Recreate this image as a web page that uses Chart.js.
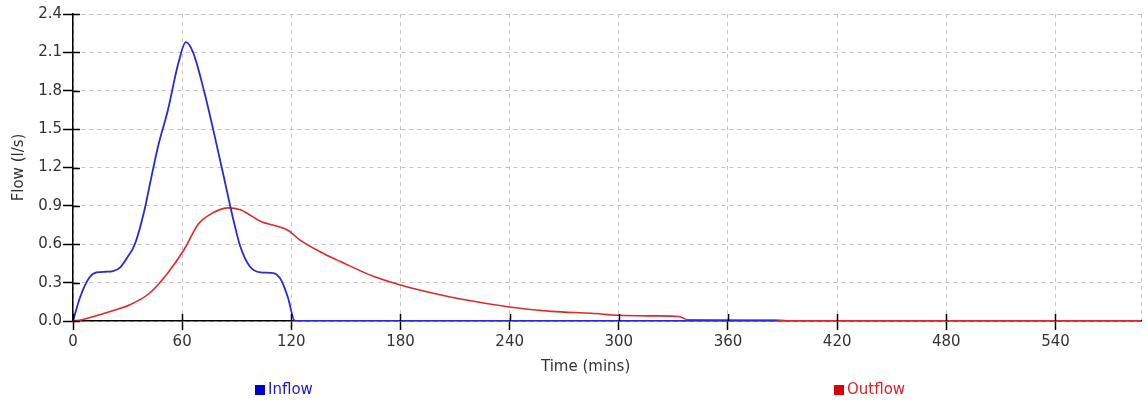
<!DOCTYPE html>
<html>
<head>
<meta charset="utf-8">
<script src="https://cdn.jsdelivr.net/npm/chart.js@4/dist/chart.umd.min.js"></script>
<style>
  body { margin: 0; background: #fff; font-family: "DejaVu Sans", sans-serif; }
  #wrap { position: relative; width: 1148px; height: 404px; }
  #chart { position: absolute; left: 0; top: 0; }
  .lbl { position: absolute; font-size: 15px; white-space: nowrap; }
  .sq { position: absolute; width: 10px; height: 10px; }
</style>
</head>
<body>
<div id="wrap">
  <canvas id="chart" width="1148" height="404"></canvas>
  <div class="lbl" id="xtitle" style="left:541px; top:357px; color:#333;">Time (mins)</div>
  <div class="sq" style="left:255px; top:385px; background:#0000d0;"></div>
  <div class="lbl" style="left:268px; top:380px; color:#1a1ad0;">Inflow</div>
  <div class="sq" style="left:834px; top:385px; background:#e00000;"></div>
  <div class="lbl" style="left:847px; top:380px; color:#e02020;">Outflow</div>
</div>
<script>
// inflow hydrograph (mins, l/s)
const inflowTime = [0, 4, 9, 13, 18, 22, 26, 30, 34, 39, 43, 47, 52, 58, 62, 66, 72, 77, 83, 88, 92, 97, 103, 110, 114, 118, 122, 387];
const inflowFlow = [0, 0.19, 0.34, 0.38, 0.385, 0.39, 0.42, 0.5, 0.6, 0.85, 1.12, 1.38, 1.64, 2.02, 2.18, 2.10, 1.80, 1.50, 1.12, 0.80, 0.58, 0.43, 0.38, 0.375, 0.33, 0.19, 0, 0];

// outflow hydrograph (mins, l/s)
const outflowTime = [0, 5, 11, 20, 31, 42, 52, 61, 69, 75, 85, 92, 103, 118, 125, 136, 147, 165, 180, 198, 213, 240, 263, 285, 300, 320, 333, 338, 386, 392, 587];
const outflowFlow = [0, 0.01, 0.034, 0.073, 0.125, 0.217, 0.374, 0.557, 0.76, 0.83, 0.884, 0.87, 0.78, 0.71, 0.63, 0.54, 0.465, 0.35, 0.282, 0.217, 0.172, 0.11, 0.075, 0.06, 0.045, 0.04, 0.035, 0.01, 0.008, 0.002, 0.002];

const xMax = 587;
const yMax = 2.4;

function pts(xs, ys) {
  return xs.map((x, i) => ({ x, y: ys[i] }));
}

// little tick stubs pointing into the plot area
const innerTicks = {
  id: 'innerTicks',
  afterDraw(chart) {
    const { ctx } = chart;
    const xs = chart.scales.x, ys = chart.scales.y;
    ctx.save();
    ctx.strokeStyle = '#000';
    ctx.lineWidth = 1.5;
    ctx.beginPath();
    xs.ticks.forEach(t => {
      if (t.value % 60 !== 0) return;
      const p = Math.round(xs.getPixelForValue(t.value)) + 0.5;
      ctx.moveTo(p, ys.bottom);
      ctx.lineTo(p, ys.bottom - 7);
    });
    ys.ticks.forEach(t => {
      const p = Math.round(ys.getPixelForValue(t.value)) + 0.5;
      ctx.moveTo(xs.left, p);
      ctx.lineTo(xs.left + 7, p);
    });
    ctx.stroke();
    ctx.restore();
  }
};

const font = { family: 'DejaVu Sans', size: 15 };

new Chart(document.getElementById('chart'), {
  type: 'line',
  data: {
    datasets: [
      {
        label: 'Inflow',
        data: pts(inflowTime, inflowFlow),
        borderColor: '#2a2ad8',
        borderWidth: 1.8,
        pointRadius: 0,
        cubicInterpolationMode: 'monotone',
        fill: false
      },
      {
        label: 'Outflow',
        data: pts(outflowTime, outflowFlow),
        borderColor: '#e02828',
        borderWidth: 1.6,
        pointRadius: 0,
        cubicInterpolationMode: 'monotone',
        fill: false
      }
    ]
  },
  options: {
    responsive: false,
    animation: false,
    layout: { padding: { top: 14, right: 7, left: 0, bottom: 0 } },
    plugins: { legend: { display: false }, tooltip: { enabled: false } },
    scales: {
      x: {
        type: 'linear',
        min: 0,
        max: xMax,
        afterFit: s => { s.height = 83; },
        border: { color: '#000', width: 1.5, dash: [4, 4] },
        grid: {
          color: '#c4c4c4',
          tickLength: 9,
          tickColor: c => (c.tick && c.tick.value % 60 === 0) ? '#000' : 'rgba(0,0,0,0)',
          tickBorderDash: [],
          tickWidth: 1.5
        },
        ticks: {
          stepSize: 60,
          autoSkip: false,
          maxRotation: 0,
          padding: 3,
          color: '#333',
          font,
          callback: v => (v % 60 === 0 ? String(v) : '')
        }
      },
      y: {
        min: 0,
        max: yMax,
        afterFit: s => { s.width = 73; },
        border: { color: '#000', width: 1.5, dash: [4, 4] },
        grid: {
          color: '#c4c4c4',
          tickLength: 10,
          tickColor: '#000',
          tickBorderDash: [],
          tickWidth: 1.5
        },
        ticks: {
          stepSize: 0.3,
          padding: 1,
          color: '#333',
          font,
          callback: v => Number(v).toFixed(1)
        },
        title: {
          display: true,
          text: 'Flow (l/s)',
          color: '#333',
          font,
          padding: { top: 10, bottom: 0 }
        }
      }
    }
  },
  plugins: [innerTicks]
});
</script>
</body>
</html>
